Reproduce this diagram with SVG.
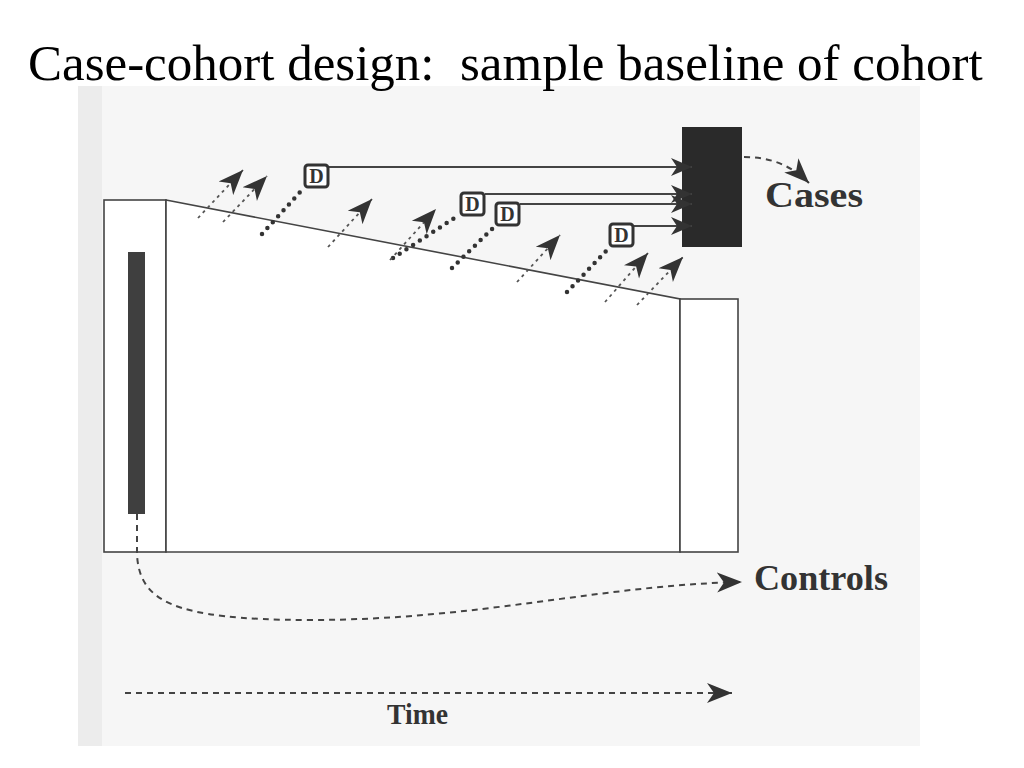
<svg xmlns="http://www.w3.org/2000/svg" width="1024" height="768" viewBox="0 0 1024 768">
<defs>
<marker id="ah" markerUnits="userSpaceOnUse" markerWidth="26" markerHeight="22" viewBox="0 0 26 22" refX="25" refY="11" orient="auto">
<path d="M0,1 L25,11 L0,21 L7,11 Z" fill="#333"/>
</marker>
<marker id="ahs" markerUnits="userSpaceOnUse" markerWidth="22" markerHeight="20" viewBox="0 0 22 20" refX="21" refY="10" orient="auto">
<path d="M0,1 L21,10 L0,19 L6,10 Z" fill="#333"/>
</marker>
</defs>
<style>
.box{fill:#fff;stroke:#444;stroke-width:1.6}
.dbox{fill:#fff;stroke:#333;stroke-width:3}
.dl{font-family:"Liberation Serif",serif;font-weight:bold;font-size:20px;fill:#333}
.lbl{font-family:"Liberation Serif",serif;font-weight:bold;fill:#333}
.solid{fill:none;stroke:#444;stroke-width:1.8}
.thin{fill:none;stroke:#555;stroke-width:1.8;stroke-dasharray:3 4}
.dots{fill:none;stroke:#333;stroke-width:4.5;stroke-linecap:round;stroke-dasharray:0 8}
.dash{fill:none;stroke:#444;stroke-width:2;stroke-dasharray:6 5}
</style>
<rect width="1024" height="768" fill="#fff"/>
<rect x="78" y="86" width="842" height="660" fill="#f6f6f6"/>
<rect x="78" y="86" width="24" height="660" fill="#ececec"/>
<g id="title">
<text x="28" y="80" font-family="Liberation Serif, serif" font-size="51" fill="#000" xml:space="preserve">Case-cohort design:  sample baseline of cohort</text>
</g>
<g id="cohort">
<rect class="box" x="104" y="200" width="62" height="352"/>
<path class="box" d="M166,200 L680,299 L680,552 L166,552 Z"/>
<rect class="box" x="680" y="299" width="58" height="253"/>
</g>
<g id="subcohort">
<rect x="128" y="252" width="17" height="262" fill="#3f3f3f"/>
</g>
<g id="cases">
<rect x="682" y="127" width="60" height="120" fill="#2a2a2a"/>
<text class="lbl" x="765" y="207" font-size="36" textLength="98" lengthAdjust="spacingAndGlyphs">Cases</text>
</g>
<g id="controls">
<text class="lbl" x="754" y="590" font-size="36" textLength="134" lengthAdjust="spacingAndGlyphs">Controls</text>
</g>
<g id="time">
<text class="lbl" x="387" y="724" font-size="29" textLength="61" lengthAdjust="spacingAndGlyphs">Time</text>
</g>
<g id="connectors">
<path class="solid" d="M329,167 L692,167" marker-end="url(#ahs)"/>
<path class="solid" d="M485,194 L692,194" marker-end="url(#ahs)"/>
<path class="solid" d="M520,204 L692,204" marker-end="url(#ahs)"/>
<path class="solid" d="M634,226 L692,226" marker-end="url(#ahs)"/>
<path class="dots" d="M262,234 L302,190"/>
<path class="dots" d="M393,258 L456,217"/>
<path class="dots" d="M452,268 L494,227"/>
<path class="dots" d="M567,292 L608,249"/>
<path class="thin" d="M198,218 L243,170" marker-end="url(#ah)"/>
<path class="thin" d="M223,222 L267,176" marker-end="url(#ah)"/>
<path class="thin" d="M328,247 L372,199" marker-end="url(#ah)"/>
<path class="thin" d="M390,260 L436,209" marker-end="url(#ah)"/>
<path class="thin" d="M517,282 L560,235" marker-end="url(#ah)"/>
<path class="thin" d="M605,302 L648,253" marker-end="url(#ah)"/>
<path class="thin" d="M637,305 L683,257" marker-end="url(#ah)"/>
<path class="dash" d="M744,157 C768,157 790,164 809,183" marker-end="url(#ah)"/>
<path class="dash" d="M137,514 L137,555 C140,600 170,620 310,620 C480,620 600,585 742,582" marker-end="url(#ah)"/>
<path class="dash" d="M125,693 L732,693" marker-end="url(#ah)"/>
</g>
<g id="d1"><rect class="dbox" x="305" y="165" width="23" height="22" rx="3"/><text class="dl" x="316.5" y="183" text-anchor="middle">D</text></g>
<g id="d2"><rect class="dbox" x="461" y="193" width="23" height="22" rx="3"/><text class="dl" x="472.5" y="211" text-anchor="middle">D</text></g>
<g id="d3"><rect class="dbox" x="496" y="203" width="23" height="22" rx="3"/><text class="dl" x="507.5" y="221" text-anchor="middle">D</text></g>
<g id="d4"><rect class="dbox" x="610" y="224" width="23" height="22" rx="3"/><text class="dl" x="621.5" y="242" text-anchor="middle">D</text></g>
</svg>
